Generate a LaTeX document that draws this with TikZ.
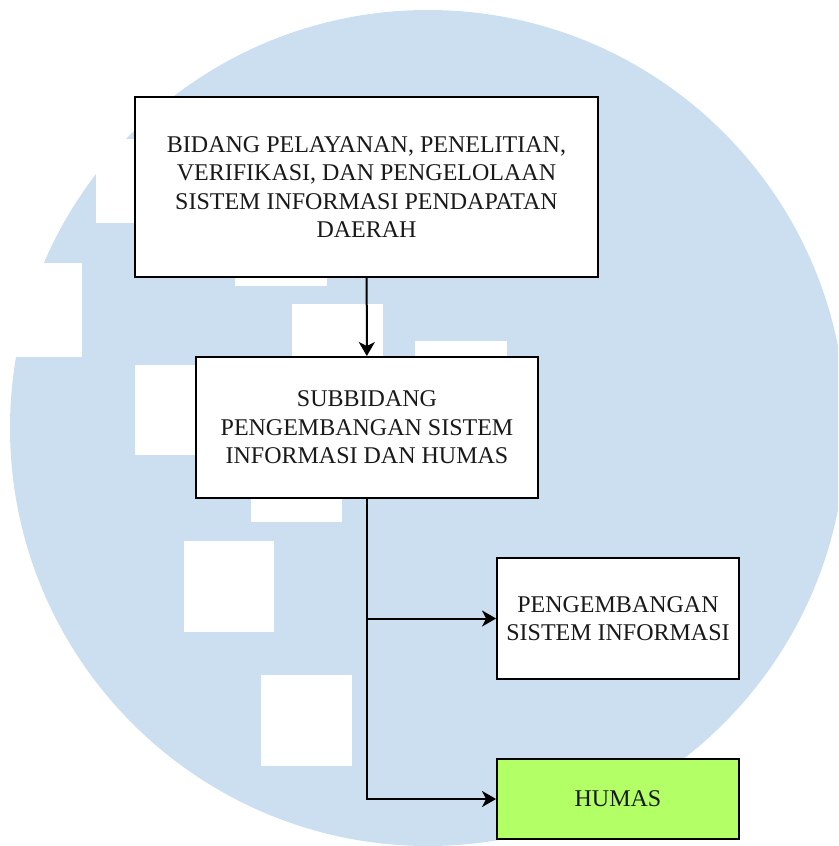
\documentclass[tikz,border=0pt]{standalone}
\usepackage{fontspec}
\setmainfont{Liberation Serif}
\usetikzlibrary{arrows.meta}

\definecolor{logoblue}{RGB}{204,223,241}
\definecolor{humasgreen}{RGB}{179,255,102}

\tikzset{
  kotak/.style={draw, line width=1.9pt, fill=white, align=center, inner sep=0pt,
    font=\fontsize{24}{28.5}\selectfont, text=black!90},
  garis/.style={line width=2pt, -{Stealth[length=14pt,width=16pt,inset=4pt]}},
}

\begin{document}
\begin{tikzpicture}[x=1pt,y=-1pt]
            \useasboundingbox (0,0) rectangle (838,846);
            \clip (0,0) rectangle (838,846);

            % background logo
            \fill[logoblue] (428,428) circle (418pt);
            \fill[white] (96,139) rectangle (187,223);
            \fill[white] (-10,263) rectangle (82,357);
            \fill[white] (235,230) rectangle (327,286);
            \fill[white] (292,304) rectangle (383,395);
            \fill[white] (415,341) rectangle (507,432);
            \fill[white] (135,365) rectangle (226,455);
            \fill[white] (251,431) rectangle (342,522);
            \fill[white] (184,541) rectangle (274,632);
            \fill[white] (261,675) rectangle (352,766);

            % boxes
            \node[kotak, minimum width=463pt, minimum height=180pt] (bidang) at (366.5,187)
              {BIDANG PELAYANAN, PENELITIAN,\\VERIFIKASI, DAN PENGELOLAAN\\SISTEM INFORMASI PENDAPATAN\\DAERAH};
            \node[kotak, minimum width=342pt, minimum height=141pt] (subbidang) at (367,427.5)
              {SUBBIDANG\\PENGEMBANGAN SISTEM\\INFORMASI DAN HUMAS};
            \node[kotak, minimum width=242pt, minimum height=121pt] (pengembangan) at (618,618.5)
              {PENGEMBANGAN\\SISTEM INFORMASI};
            \node[kotak, fill=humasgreen, minimum width=242pt, minimum height=80pt] (humas) at (618,799)
              {HUMAS};

            % connectors
            \draw[garis] (bidang) -- (subbidang);
            \draw[garis] (subbidang.south) |- (pengembangan.west);
            \draw[garis] (subbidang.south) |- (humas.west);
        \end{tikzpicture}
\end{document}
